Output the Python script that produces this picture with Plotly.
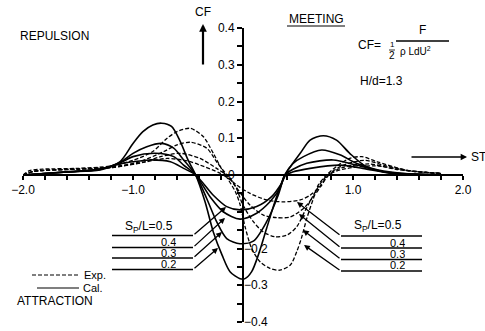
import plotly.graph_objects as go

# ---------------- data ----------------
# Calculated (solid) curves, S_P/L = 0.2, 0.3, 0.4, 0.5
cal_02_x = [-2.0, -1.6, -1.3, -1.12, -1.0, -0.91, -0.82, -0.74, -0.65, -0.57, -0.5, -0.43,
            -0.345, -0.27, -0.19, -0.118, -0.027, 0.018, 0.079, 0.139, 0.215, 0.29, 0.38,
            0.43, 0.52, 0.61, 0.73, 0.85, 0.97, 1.12, 1.34, 1.6, 2.0]
cal_02_y = [0.0, 0.009, 0.016, 0.036, 0.086, 0.118, 0.136, 0.141, 0.132, 0.091, 0.041, 0.0,
            -0.073, -0.155, -0.218, -0.263, -0.282, -0.282, -0.263, -0.218, -0.145, -0.073, 0.0,
            0.022, 0.059, 0.095, 0.107, 0.095, 0.059, 0.023, 0.005, 0.002, 0.0]

cal_03_x = [-2.0, -1.6, -1.3, -1.12, -1.0, -0.875, -0.74, -0.63, -0.54, -0.43, -0.33, -0.24,
            -0.148, -0.027, 0.094, 0.215, 0.32, 0.38, 0.45, 0.55, 0.715, 0.88, 1.03, 1.22,
            1.5, 2.0]
cal_03_y = [0.0, 0.008, 0.016, 0.034, 0.059, 0.077, 0.086, 0.073, 0.041, 0.0, -0.064, -0.127,
            -0.173, -0.187, -0.18, -0.127, -0.055, 0.0, 0.03, 0.05, 0.068, 0.055, 0.032, 0.014,
            0.003, 0.0]

cal_04_x = [-2.0, -1.6, -1.3, -1.12, -1.0, -0.8, -0.63, -0.54, -0.43, -0.3, -0.18, -0.027,
            0.124, 0.245, 0.336, 0.38, 0.45, 0.58, 0.82, 1.03, 1.28, 1.6, 2.0]
cal_04_y = [0.0, 0.008, 0.015, 0.033, 0.05, 0.059, 0.05, 0.027, 0.0, -0.059, -0.1, -0.12,
            -0.104, -0.073, -0.036, 0.0, 0.015, 0.032, 0.041, 0.027, 0.009, 0.002, 0.0]

cal_05_x = [-2.0, -1.6, -1.3, -1.12, -1.0, -0.85, -0.66, -0.54, -0.43, -0.27, -0.148, -0.027,
            0.124, 0.26, 0.35, 0.39, 0.45, 0.61, 0.88, 1.09, 1.34, 1.6, 2.0]
cal_05_y = [0.0, 0.008, 0.014, 0.03, 0.036, 0.041, 0.036, 0.018, 0.0, -0.055, -0.086, -0.095,
            -0.086, -0.059, -0.023, 0.0, 0.008, 0.018, 0.027, 0.018, 0.005, 0.001, 0.0]

# Experimental (dashed) curves, S_P/L = 0.2, 0.3, 0.4, 0.5
exp_02_x = [-2.0, -1.94, -1.82, -1.51, -1.21, -1.0, -0.82, -0.69, -0.6, -0.48, -0.36, -0.27,
            -0.19, -0.15, -0.07, -0.027, 0.018, 0.079, 0.155, 0.245, 0.336, 0.43, 0.488, 0.53,
            0.58, 0.64, 0.685, 0.76, 0.88, 0.97, 1.08, 1.22, 1.5, 1.8]
exp_02_y = [0.0, 0.012, 0.016, 0.018, 0.024, 0.04, 0.064, 0.1, 0.118, 0.127, 0.104, 0.059,
            0.014, -0.005, -0.045, -0.08, -0.14, -0.2, -0.236, -0.254, -0.259, -0.245, -0.209,
            -0.173, -0.118, -0.064, -0.027, 0.0, 0.03, 0.045, 0.05, 0.036, 0.012, 0.005]

exp_03_x = [-2.0, -1.9, -1.5, -1.2, -0.95, -0.72, -0.6, -0.48, -0.33, -0.24, -0.16, -0.07,
            0.0, 0.094, 0.185, 0.29, 0.397, 0.488, 0.56, 0.64, 0.7, 0.77, 0.9, 1.1, 1.3, 1.55,
            1.8]
exp_03_y = [0.0, 0.01, 0.016, 0.022, 0.035, 0.064, 0.082, 0.089, 0.073, 0.036, 0.005, -0.03,
            -0.082, -0.127, -0.155, -0.168, -0.164, -0.141, -0.1, -0.055, -0.025, 0.0, 0.025,
            0.04, 0.025, 0.01, 0.004]

exp_04_x = [-2.0, -1.9, -1.5, -1.2, -0.9, -0.75, -0.57, -0.39, -0.24, -0.13, -0.07, 0.064,
            0.185, 0.306, 0.43, 0.55, 0.64, 0.71, 0.78, 0.9, 1.15, 1.4, 1.8]
exp_04_y = [0.0, 0.01, 0.016, 0.02, 0.035, 0.05, 0.059, 0.045, 0.018, -0.005, -0.03, -0.082,
            -0.109, -0.116, -0.114, -0.091, -0.059, -0.03, 0.0, 0.02, 0.03, 0.015, 0.004]

exp_05_x = [-2.0, -1.9, -1.5, -1.2, -0.9, -0.69, -0.5, -0.39, -0.21, -0.12, -0.06, 0.064,
            0.215, 0.367, 0.52, 0.61, 0.685, 0.78, 0.9, 1.2, 1.5, 1.8]
exp_05_y = [0.0, 0.01, 0.016, 0.02, 0.035, 0.045, 0.038, 0.027, 0.005, -0.012, -0.027, -0.05,
            -0.068, -0.073, -0.068, -0.055, -0.036, 0.0, 0.015, 0.025, 0.012, 0.004]

x_tick_vals = [-2.0, -1.0, 1.0, 2.0]
x_tick_text = ["\u22122.0", "\u22121.0", "1.0", "2.0"]
y_pos_tick_vals = [0.0, 0.1, 0.2, 0.3, 0.4]
y_pos_tick_text = ["0", "0.1", "0.2", "0.3", "0.4"]
y_neg_tick_vals = [-0.2, -0.3, -0.4]
y_neg_tick_text = ["\u22120.2", "\u22120.3", "\u22120.4"]
sp_labels = ["S<sub>P</sub>/L=0.5", "0.4", "0.3", "0.2"]

# ---------------- figure ----------------
W, H = 485, 331
ML, MR, MT, MB = 23, 22, 28, 9
FONT = "Liberation Sans, Arial, sans-serif"


def ppx(px):
    return (px - ML) / (W - ML - MR)


def ppy(py):
    return (H - MB - py) / (H - MT - MB)


fig = go.Figure()

for xs, ys in [(cal_02_x, cal_02_y), (cal_03_x, cal_03_y), (cal_04_x, cal_04_y), (cal_05_x, cal_05_y)]:
    fig.add_trace(go.Scatter(x=xs, y=ys, mode="lines", line=dict(color="black", width=1.6, shape="spline", smoothing=0.8),
                             showlegend=False, hoverinfo="skip", cliponaxis=False))
for xs, ys in [(exp_02_x, exp_02_y), (exp_03_x, exp_03_y), (exp_04_x, exp_04_y), (exp_05_x, exp_05_y)]:
    fig.add_trace(go.Scatter(x=xs, y=ys, mode="lines",
                             line=dict(color="black", width=1.3, dash="4px,2px", shape="spline", smoothing=0.8),
                             showlegend=False, hoverinfo="skip", cliponaxis=False))
# invisible trace so the right-hand label axis is drawn
fig.add_trace(go.Scatter(x=[0], y=[0], yaxis="y2", mode="markers", marker=dict(opacity=0),
                         showlegend=False, hoverinfo="skip"))

shapes = []
annotations = []


def text(px, py, s, size=12, anchor="center", height=None):
    a = dict(x=ppx(px), y=ppy(py), xref="paper", yref="paper", text=s, showarrow=False,
             xanchor=anchor, yanchor="middle", font=dict(size=size, color="black", family=FONT))
    if height:
        a["height"] = height
    annotations.append(a)


def seg(x0, y0, x1, y1, width=1.5, dash=None):
    ln = dict(color="black", width=width)
    if dash:
        ln["dash"] = dash
    shapes.append(dict(type="line", xref="paper", yref="paper", x0=ppx(x0), y0=ppy(y0), x1=ppx(x1), y1=ppy(y1),
                       line=ln))


def arrow(tipx, tipy, tailx, taily, width=1.3, head=2, size=1.0):
    annotations.append(dict(x=ppx(tipx), y=ppy(tipy), xref="paper", yref="paper",
                            ax=tailx - tipx, ay=taily - tipy, axref="pixel", ayref="pixel",
                            text="", showarrow=True, arrowhead=head, arrowsize=size, arrowwidth=width,
                            arrowcolor="black", standoff=0, startstandoff=0))


# texts
text(54, 36, "REPULSION")
text(316, 19, "MEETING")
seg(287, 26, 345, 26, width=1.2)
text(203, 12, "CF")
arrow(203, 24, 203, 66, width=2.2, head=2, size=0.7)
text(369, 45, "CF=")
seg(396, 41, 449, 41, width=1.6)
text(422, 30, "F")
text(392, 45, "1", size=8)
text(392, 55, "2", size=10)
seg(389, 50, 395, 50, width=0.8)
text(398, 51, "\u03c1 LdU<sup>2</sup>", size=10, anchor="left")
text(381, 81, "H/d=1.3")
arrow(467, 157, 410, 157, width=1.4, head=2, size=0.9)
text(469, 157, "ST", anchor="left")

# legend
seg(32, 275, 79, 275, width=1.2, dash="4px,2px")
text(82, 275, "Exp.", size=11, anchor="left")
seg(37, 288, 79, 288, width=1.2)
text(81, 288, "Cal.", size=11, anchor="left")
text(15, 301, "ATTRACTION", anchor="left")

# S_P/L leader lines, left (point at calculated curves)
left_h = [235.5, 247.5, 258, 269.5]
left_tips = [(226, 207), (225, 218), (222, 232), (218, 248)]
left_lbl = [(149, 227), (168, 241.5), (168, 252.5), (168, 264)]
for i, (hy, (tx, ty), (lx, ly), s) in enumerate(zip(left_h, left_tips, left_lbl, sp_labels)):
    seg(112, hy, 193, hy, width=1.3)
    arrow(tx, ty, 193, hy, width=1.3, head=2, size=0.9)
    text(lx, ly, s, size=12 if i == 0 else 11, height=None if i == 0 else 10)

# S_P/L leader lines, right (point at experimental curves)
right_h = [236, 248, 259.5, 271]
right_tips = [(297, 202), (299, 214), (303, 230), (304, 245)]
right_lbl = [(378, 226), (397, 242.5), (397, 254), (397, 265)]
for i, (hy, (tx, ty), (lx, ly), s) in enumerate(zip(right_h, right_tips, right_lbl, sp_labels)):
    seg(341, hy, 422, hy, width=1.3)
    arrow(tx, ty, 341, hy, width=1.3, head=2, size=0.9)
    text(lx, ly, s, size=12 if i == 0 else 11, height=None if i == 0 else 10)

axis_font = dict(size=12, color="black", family=FONT)
fig.update_layout(
    width=W, height=H,
    margin=dict(l=ML, r=MR, t=MT, b=MB, autoexpand=False),
    paper_bgcolor="white", plot_bgcolor="white",
    showlegend=False,
    xaxis=dict(range=[-2, 2], anchor="free", position=0.5, showline=True, linecolor="black", linewidth=2,
               showgrid=False, zeroline=False, ticks="outside", ticklen=4, tickwidth=1.5, tickcolor="black",
               tickvals=x_tick_vals, ticktext=x_tick_text, tickfont=axis_font, automargin=False,
               minor=dict(dtick=0.2, tick0=0, ticks="outside", ticklen=4, tickwidth=1.5, tickcolor="black",
                          showgrid=False)),
    yaxis=dict(range=[-0.4, 0.4], anchor="free", position=0.5, showline=True, linecolor="black", linewidth=2,
               showgrid=False, zeroline=False, ticks="outside", ticklen=5, tickwidth=1.5, tickcolor="black",
               tickvals=y_pos_tick_vals, ticktext=y_pos_tick_text, tickfont=axis_font, automargin=False,
               minor=dict(dtick=0.05, tick0=0, ticks="outside", ticklen=5, tickwidth=1.5, tickcolor="black",
                          showgrid=False)),
    yaxis2=dict(range=[-0.4, 0.4], overlaying="y", anchor="free", position=0.5, side="right", showline=False,
                showgrid=False, zeroline=False, ticks="", tickvals=y_neg_tick_vals, ticktext=y_neg_tick_text,
                tickfont=axis_font, automargin=False),
    shapes=shapes,
    annotations=annotations,
)

fig.write_html("out.html", config={"displayModeBar": False},
               post_script="document.body.style.margin='0';document.body.style.overflow='hidden';")
